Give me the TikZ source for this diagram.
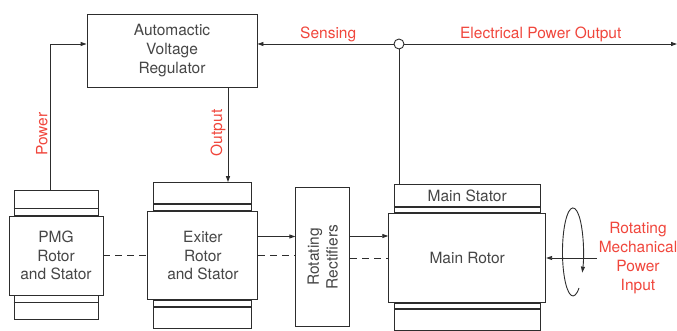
\documentclass[tikz,border=0pt]{standalone}
\usepackage{fontspec}
\setmainfont{TeX Gyre Heros}
\usetikzlibrary{arrows.meta, positioning}
\definecolor{linec}{RGB}{45,45,45}
\definecolor{txtc}{RGB}{70,70,70}
\definecolor{lblred}{RGB}{240,70,60}
\newcommand{\dfont}{\fontsize{15.5pt}{18.7pt}\selectfont}

\begin{document}
\begin{tikzpicture}[x=1pt, y=-1pt,
  block/.style={rectangle, draw=linec, line width=0.9pt, fill=white, align=center,
    text=txtc, font=\dfont, inner sep=0pt},
  capbox/.style={rectangle, draw=linec, line width=0.9pt, fill=white, inner sep=0pt,
    text=txtc, font=\dfont},
  sepline/.style={linec, line width=1.7pt},
  arr/.style={-{Triangle[length=6pt, width=4pt]}, linec, line width=0.9pt},
  wire/.style={linec, line width=0.9pt},
  shaft/.style={linec, line width=0.9pt, dash pattern=on 7pt off 5pt},
  lbl/.style={text=lblred, font=\dfont, inner sep=2pt, align=center},
  node distance=44pt
]
\useasboundingbox (0,0) rectangle (677,331);

% Regulator
\node[block, minimum width=170pt, minimum height=73pt] (avr) at (172,50.5)
  {Automactic\\Voltage\\Regulator};
\node[circle, draw=linec, line width=0.9pt, fill=white, minimum size=10pt, inner sep=0pt] (jn) at (399,44) {};
\coordinate (eout) at (677,44);
\coordinate (outx) at (228,0);

% Machines
\node[block, minimum width=94pt, minimum height=79pt] (pmg) at (56,255.5) {PMG\\Rotor\\and Stator};
\node[block, minimum width=110pt, minimum height=88pt, right=44pt of pmg] (ex) {Exiter\\Rotor\\and Stator};
\node[block, minimum width=54pt, minimum height=139pt, right=37pt of ex, yshift=-1.5pt] (rect) {};
\node[rotate=90, align=center, text=txtc, font=\dfont] (rectl) at (rect) {Rotating\\Rectifiers};
\node[block, minimum width=157pt, minimum height=89pt, right=38pt of rect, yshift=-1pt] (rotor) {Main Rotor};

% Caps
\node[capbox, minimum width=84pt, minimum height=25pt, above=0pt of pmg] (pmgT) {};
\node[capbox, minimum width=84pt, minimum height=24pt, below=0pt of pmg] (pmgB) {};
\node[capbox, minimum width=98pt, minimum height=28pt, above=0pt of ex] (exT) {};
\node[capbox, minimum width=98pt, minimum height=28pt, below=0pt of ex] (exB) {};
\node[capbox, minimum width=146pt, minimum height=28pt, text depth=6pt, above=0pt of rotor] (mainT) {Main Stator};
\node[capbox, minimum width=146pt, minimum height=27pt, below=0pt of rotor] (mainB) {};
\foreach \c/\d in {pmgT/7, exT/7, mainT/6}
  \draw[sepline] ([yshift=\d pt]\c.south west) -- ([yshift=\d pt]\c.south east);
\foreach \c/\d in {pmgB/7, exB/7, mainB/6}
  \draw[sepline] ([yshift=-\d pt]\c.north west) -- ([yshift=-\d pt]\c.north east);

% Mechanical input
\node[lbl] (mech) at (638,258) {Rotating\\Mechanical\\Power\\Input};

% Arrows
\draw[arr] ([xshift=-6pt]pmgT.north) |-
  node[lbl, rotate=90, anchor=south, pos=0.19]{Power} (jn -| avr.west);
\draw[arr] (avr.south -| outx) --
  node[lbl, rotate=90, anchor=south, pos=0.48]{Output} (exT.north -| outx);
\draw[arr] (jn) -- node[lbl, above, pos=0.48]{Sensing} (jn -| avr.east);
\draw[wire] (mainT.north -| jn) -- (jn);
\draw[arr] (jn) -- node[lbl, above, pos=0.5]{Electrical Power Output} (eout);
\draw[arr] ([yshift=19pt]ex.east) -- ([yshift=19pt]ex.east -| rect.west);
\draw[arr] ([yshift=22pt]rotor.west -| rect.east) -- ([yshift=22pt]rotor.west);
\draw[arr] (mech.west) -- (mech.west -| rotor.east);
\draw[arr] (579.0,288.0) arc[start angle=55, end angle=388, x radius=10.5, y radius=44];

% Shaft
\draw[shaft] (pmg.east) -- (pmg.east -| ex.west);
\draw[shaft] (ex.east) -- (ex.east -| rect.west);
\draw[shaft] (rotor.west -| rect.east) -- (rotor.west);

\end{tikzpicture}
\end{document}
